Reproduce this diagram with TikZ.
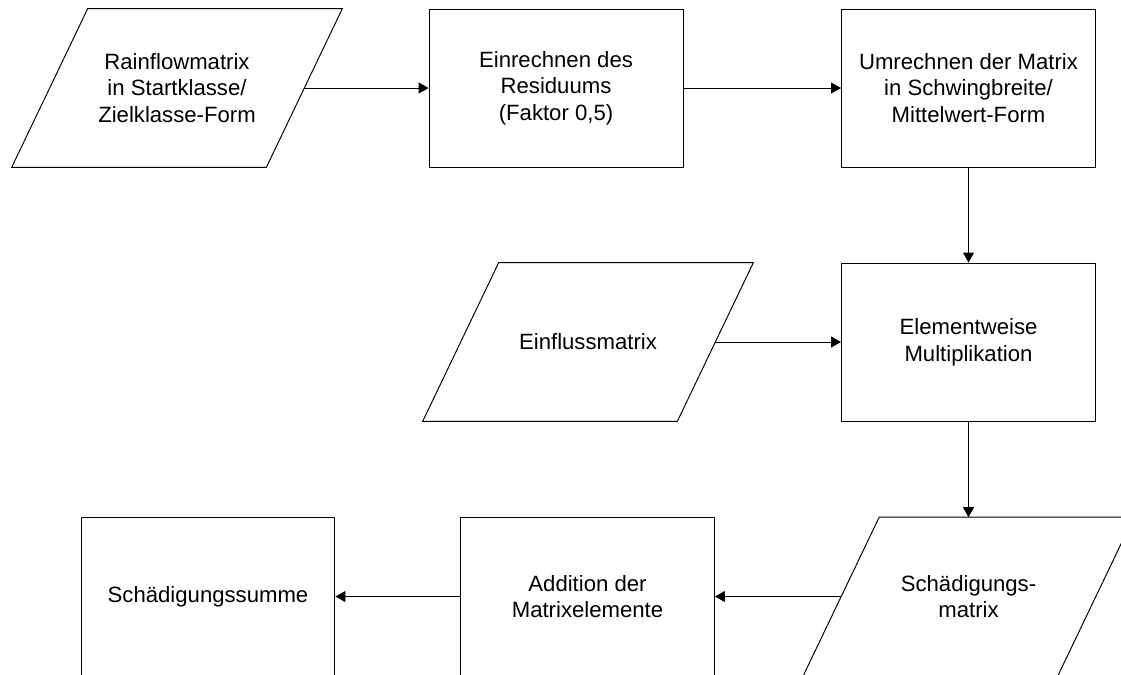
\documentclass[tikz,border=0pt]{standalone}
\usepackage{fontspec}
\setmainfont{Liberation Sans}
\usetikzlibrary{shapes.geometric, arrows.meta, positioning}

% outline of a data node (parallelogram round a named node)
\newcommand{\dataoutline}[1]{%
  \draw[line width=0.55pt] ([xshift=0.76cm]#1.north west) -- ([xshift=0.76cm]#1.north east)
    -- ([xshift=-0.76cm]#1.south east) -- ([xshift=-0.76cm]#1.south west) -- cycle;}

\begin{document}
\begin{tikzpicture}[
    x=0.02cm, y=-0.02cm,
    % Node styles
    datanode/.style={rectangle, inner sep=0pt, minimum width=5.08cm,
                     minimum height=3.16cm, align=center,
                     font=\fontsize{12.6}{15.2}\selectfont},
    procnode/.style={rectangle, draw, line width=0.55pt, inner sep=0pt,
                     minimum width=5.08cm, minimum height=3.16cm, align=center,
                     font=\fontsize{12.6}{15.2}\selectfont},
    arrow/.style={-{Triangle[length=0.2cm, width=0.22cm]}, line width=0.55pt}
]
\useasboundingbox (0,0) rectangle (1121,674);
\clip (0,0) rectangle (1121,674);

% Top row
\node[datanode] (rainflow) at (177,88) {Rainflowmatrix\\in Startklasse/\\Zielklasse-Form};
\dataoutline{rainflow}
\node[procnode] (residuum) at (556,88) {Einrechnen des\\Residuums\\(Faktor 0,5)};
\node[procnode] (umrechnen) at (968.5,88) {Umrechnen der Matrix\\in Schwingbreite/\\Mittelwert-Form};

% Middle row
\node[datanode] (einfluss) at (588,342) {Einflussmatrix};
\dataoutline{einfluss}
\node[procnode] (multi) at (968.5,342) {Elementweise\\Multiplikation};

% Bottom row
\node[datanode] (schadmatrix) at (968.5,596.5) {Schädigungs-\\matrix};
\dataoutline{schadmatrix}
\node[procnode] (addition) at (587.5,596.5) {Addition der\\Matrixelemente};
\node[procnode] (summe) at (208,596.5) {Schädigungssumme};

% Arrows
\draw[arrow] (rainflow.east) -- (residuum.west);
\draw[arrow] (residuum) -- (umrechnen);
\draw[arrow] (umrechnen) -- (multi);
\draw[arrow] (einfluss.east) -- (multi.west);
\draw[arrow] (multi) -- (schadmatrix.north);
\draw[arrow] (schadmatrix.west) -- (addition.east);
\draw[arrow] (addition) -- (summe);

\end{tikzpicture}
\end{document}
